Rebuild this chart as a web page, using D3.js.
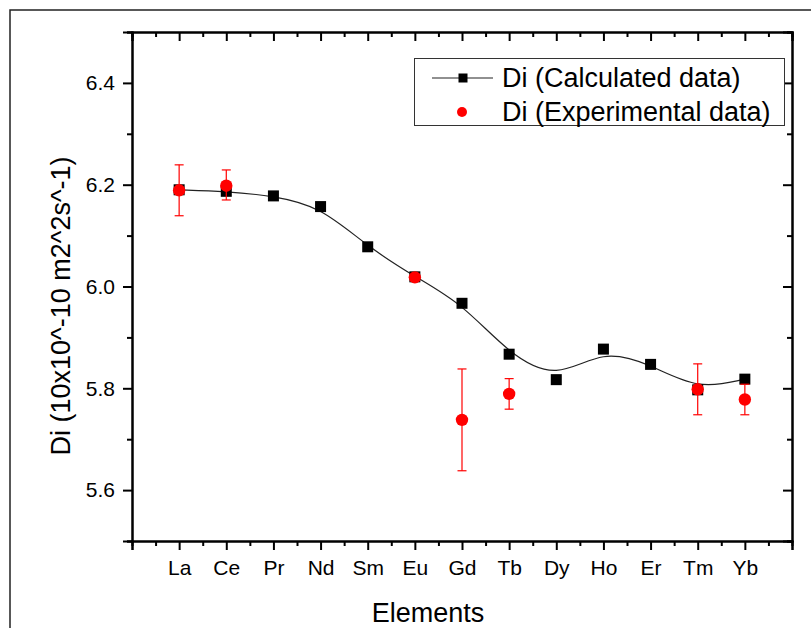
<!DOCTYPE html>
<html>
<head>
<meta charset="utf-8">
<script src="https://cdn.jsdelivr.net/npm/d3@7/dist/d3.min.js"></script>
<style>
  html, body { margin: 0; padding: 0; background: #fff; }
  svg { display: block; }
  text { font-family: "Liberation Sans", Arial, sans-serif; }
</style>
</head>
<body>
<svg id="chart" width="811" height="628"></svg>
<script>
const elements = ["La","Ce","Pr","Nd","Sm","Eu","Gd","Tb","Dy","Ho","Er","Tm","Yb"];
const calculated = [6.19, 6.187, 6.178, 6.157, 6.078, 6.019, 5.967, 5.867, 5.817, 5.877, 5.847, 5.797, 5.818];
const expElements = ["La","Ce","Eu","Gd","Tb","Tm","Yb"];
const experimental = [6.189, 6.198, 6.018, 5.738, 5.789, 5.798, 5.778];
const expErrUp =   [0.05, 0.031, 0.0, 0.10, 0.03, 0.05, 0.03];
const expErrDown = [0.05, 0.028, 0.0, 0.10, 0.03, 0.05, 0.03];
const yMajorTicks = [5.6, 5.8, 6.0, 6.2, 6.4];
const yMinorTicks = [5.5, 5.7, 5.9, 6.1, 6.3, 6.5];
const legendLabels = ["Di (Calculated data)", "Di (Experimental data)"];
const xTitle = "Elements";
const yTitle = "Di (10x10^-10 m2^2s^-1)";

const svg = d3.select("#chart");
const L = 132, R = 792, T = 32, B = 541;

const x = d3.scaleLinear().domain([0, elements.length + 1]).range([L, R]);
const y = d3.scaleLinear().domain([5.5, 6.5]).range([B, T]);
const xPos = name => x(elements.indexOf(name) + 1);

// outer frame
svg.append("rect").attr("x", 10).attr("y", 10).attr("width", 830).attr("height", 650)
  .attr("fill", "none").attr("stroke", "#222").attr("stroke-width", 1.5);

const xMajor = d3.range(0, elements.length + 2);
const xMinor = d3.range(0.5, elements.length + 1, 1);
const labelFor = v => (v >= 1 && v <= elements.length) ? elements[v - 1] : "";

function styleAxis(g) {
  g.selectAll("path.domain").attr("stroke", "#000").attr("stroke-width", 2);
  g.selectAll(".tick line").attr("stroke", "#000").attr("stroke-width", 2);
  g.selectAll("text").attr("font-family", "'Liberation Sans', Arial, sans-serif").attr("fill", "#000");
}

// bottom axis
const gb = svg.append("g").attr("transform", `translate(0,${B})`)
  .call(d3.axisBottom(x).tickValues(xMajor).tickSize(9).tickPadding(10).tickFormat(labelFor));
styleAxis(gb); gb.selectAll("text").attr("font-size", 21);
const gbm = svg.append("g").attr("transform", `translate(0,${B})`)
  .call(d3.axisBottom(x).tickValues(xMinor).tickSize(5).tickFormat(""));
styleAxis(gbm);

// top axis (inward ticks)
const gt = svg.append("g").attr("transform", `translate(0,${T})`)
  .call(d3.axisTop(x).tickValues(xMajor).tickSize(-9).tickFormat(""));
styleAxis(gt);
const gtm = svg.append("g").attr("transform", `translate(0,${T})`)
  .call(d3.axisTop(x).tickValues(xMinor).tickSize(-5).tickFormat(""));
styleAxis(gtm);

// left axis
const gl = svg.append("g").attr("transform", `translate(${L},0)`)
  .call(d3.axisLeft(y).tickValues(yMajorTicks).tickSize(9).tickPadding(8).tickFormat(d3.format(".1f")));
styleAxis(gl); gl.selectAll("text").attr("font-size", 21);
const glm = svg.append("g").attr("transform", `translate(${L},0)`)
  .call(d3.axisLeft(y).tickValues(yMinorTicks).tickSize(5).tickFormat(""));
styleAxis(glm);

// right axis (inward ticks)
const gr = svg.append("g").attr("transform", `translate(${R},0)`)
  .call(d3.axisRight(y).tickValues(yMajorTicks).tickSize(-9).tickFormat(""));
styleAxis(gr);
const grm = svg.append("g").attr("transform", `translate(${R},0)`)
  .call(d3.axisRight(y).tickValues(yMinorTicks).tickSize(-5).tickFormat(""));
styleAxis(grm);

// calculated spline
const line = d3.line().x((d, i) => x(i + 1)).y(d => y(d)).curve(d3.curveBasis);
svg.append("path").datum(calculated).attr("d", line)
  .attr("fill", "none").attr("stroke", "#222").attr("stroke-width", 1.2);

const sq = 11;
svg.append("g").selectAll("rect").data(calculated).join("rect")
  .attr("x", (d, i) => x(i + 1) - sq / 2).attr("y", d => y(d) - sq / 2)
  .attr("width", sq).attr("height", sq).attr("fill", "#000");

// experimental with error bars
const eg = svg.append("g");
experimental.forEach((v, i) => {
  const cx = xPos(expElements[i]);
  const up = expErrUp[i], dn = expErrDown[i];
  if (up > 0 || dn > 0) {
    const yt = y(v + up), yb = y(v - dn);
    eg.append("line").attr("x1", cx).attr("x2", cx).attr("y1", yt).attr("y2", yb)
      .attr("stroke", "#f00").attr("stroke-width", 1.2);
    [yt, yb].forEach(yy => eg.append("line").attr("x1", cx - 4.5).attr("x2", cx + 4.5)
      .attr("y1", yy).attr("y2", yy).attr("stroke", "#f00").attr("stroke-width", 1.2));
  }
});
eg.selectAll("circle").data(experimental).join("circle")
  .attr("cx", (d, i) => xPos(expElements[i])).attr("cy", d => y(d))
  .attr("r", 6.2).attr("fill", "#f00");

// legend
const lg = svg.append("g");
lg.append("rect").attr("x", 414.5).attr("y", 58.5).attr("width", 370).attr("height", 67)
  .attr("fill", "#fff").attr("stroke", "#333").attr("stroke-width", 1);
lg.append("line").attr("x1", 432).attr("x2", 493).attr("y1", 78).attr("y2", 78)
  .attr("stroke", "#222").attr("stroke-width", 1.2);
lg.append("rect").attr("x", 463 - 4.5).attr("y", 78 - 4.5).attr("width", 9).attr("height", 9).attr("fill", "#000");
lg.append("circle").attr("cx", 462).attr("cy", 112).attr("r", 5).attr("fill", "#f00");
legendLabels.forEach((t, i) => {
  lg.append("text").attr("x", 502).attr("y", 78 + i * 34).attr("dy", "0.35em")
    .attr("font-size", 27).attr("fill", "#000").text(t);
});

// axis titles
svg.append("text").attr("x", 428).attr("y", 622).attr("text-anchor", "middle")
  .attr("font-size", 27).attr("fill", "#000").text(xTitle);
svg.append("text").attr("transform", `translate(70,306) rotate(-90)`).attr("text-anchor", "middle")
  .attr("font-size", 27).attr("fill", "#000").text(yTitle);
</script>
</body>
</html>
